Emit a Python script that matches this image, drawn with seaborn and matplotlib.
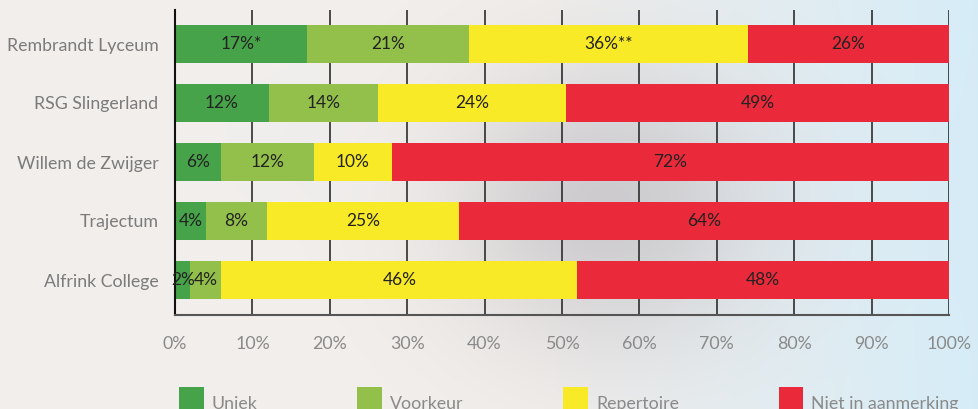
import numpy as np
import pandas as pd
import matplotlib
matplotlib.use("Agg")
import matplotlib.pyplot as plt
from matplotlib.patches import Patch
import seaborn as sns

# ---- data ----
schools = ["Rembrandt Lyceum", "RSG Slingerland", "Willem de Zwijger", "Trajectum", "Alfrink College"]
series = ["Uniek", "Voorkeur", "Repertoire", "Niet in aanmerking"]
uniek = [17, 12, 6, 4, 2]
voorkeur = [21, 14, 12, 8, 4]
repertoire = [36, 24, 10, 25, 46]
niet = [26, 49, 72, 64, 48]
label_suffix = {(0, 0): "*", (0, 2): "**"}
colors = ["#47A349", "#93C04A", "#F8EA26", "#EA2A3A"]
xticks = [0, 10, 20, 30, 40, 50, 60, 70, 80, 90, 100]

sns.set_theme(style="white")
plt.rcParams["font.family"] = ["Lato", "DejaVu Sans"]

vals = np.array([uniek, voorkeur, repertoire, niet], dtype=float)  # series x schools
totals = vals.sum(axis=0)
shares = vals / totals * 100.0
cum = np.cumsum(shares, axis=0)

fig = plt.figure(figsize=(9.79, 4.09), dpi=100)

# decorative background
bg = fig.add_axes([0, 0, 1, 1], zorder=0)
H, W = 82, 196
yy, xx = np.mgrid[0:H, 0:W]
xn = xx / (W - 1)
yn = yy / (H - 1)
left_c = np.array([243, 239, 236]) / 255
right_c = np.array([214, 236, 247]) / 255
t = np.clip((xn - 0.55) / 0.45, 0, 1)[..., None]
img = left_c * (1 - t) + right_c * t
blob = np.exp(-(((xn - 0.62) / 0.16) ** 2 + ((yn - 0.5) / 0.35) ** 2))[..., None]
gray = np.array([199, 197, 201]) / 255
img = img * (1 - 0.85 * blob) + gray * 0.85 * blob
blob2 = np.exp(-(((xn - 0.3) / 0.12) ** 2 + ((yn - 0.35) / 0.3) ** 2))[..., None]
img = img * (1 - 0.25 * blob2) + np.array([232, 236, 238]) / 255 * 0.25 * blob2
bg.imshow(img, aspect="auto", extent=[0, 1, 0, 1], interpolation="bilinear")
bg.axis("off")

ax = fig.add_axes([175 / 979, 1 - 315 / 409, 774 / 979, 305 / 409], zorder=1)
ax.set_facecolor("none")

bar_h = 38 / 59
for i in range(len(series) - 1, -1, -1):
    df = pd.DataFrame({"school": schools, "value": cum[i]})
    sns.barplot(data=df, x="value", y="school", color=colors[i], orient="h",
                width=bar_h, saturation=1, ax=ax, zorder=2, linewidth=0, edgecolor="none")

for i in range(len(series)):
    for j in range(len(schools)):
        start = cum[i - 1][j] if i > 0 else 0
        center = start + shares[i][j] / 2
        txt = f"{int(vals[i][j])}%" + label_suffix.get((j, i), "")
        ax.text(center, j, txt, ha="center", va="center", fontsize=12.5,
                color="#222222", zorder=3)

ax.set_xlim(0, 100)
ax.set_ylim(4 + 35 / 59, -34 / 59)
ax.set_xticks(xticks)
ax.set_xticklabels([f"{v}%" for v in xticks])
ax.set_xlabel("")
ax.set_ylabel("")
ax.xaxis.grid(True, color="#2e2e2e", linewidth=1.2)
ax.yaxis.grid(False)
ax.set_axisbelow(True)
ax.tick_params(axis="x", length=0, pad=15, labelsize=12.8, labelcolor="#8a8a8a")
ax.tick_params(axis="y", length=0, pad=12, labelsize=12.8, labelcolor="#7b7b7b")
for s in ["top", "right"]:
    ax.spines[s].set_visible(False)
ax.spines["left"].set_color("#111111")
ax.spines["left"].set_linewidth(1.5)
ax.spines["bottom"].set_color("#555555")
ax.spines["bottom"].set_linewidth(1.5)

handles = [Patch(facecolor=c, edgecolor="none") for c in colors]
leg = fig.legend(handles, series, loc="upper left", bbox_to_anchor=(179 / 979, 1 - 387 / 409),
                 ncol=4, frameon=False, fontsize=12.8, handlelength=1.4, handleheight=2.5,
                 handletextpad=0.45, columnspacing=5.6, borderpad=0, borderaxespad=0)
for t_ in leg.get_texts():
    t_.set_color("#8a8a8a")

fig.savefig("out.png", dpi=100)
